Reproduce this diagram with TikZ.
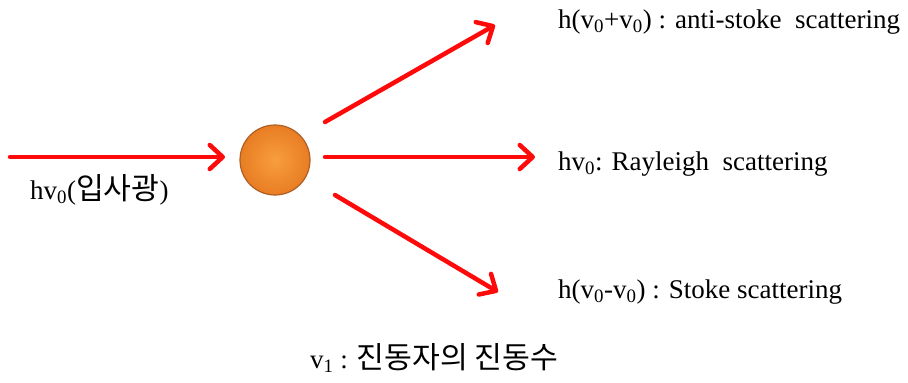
\documentclass[tikz,border=0pt]{standalone}
\usepackage{fontspec}
\setmainfont{Liberation Serif}
\newfontfamily\krfont[Scale=1.12]{Noto Sans CJK KR}
\usetikzlibrary{arrows.meta,positioning}
\definecolor{rayRed}   {RGB}{255, 10,  10}
\definecolor{ballLight}{RGB}{248, 158, 62}
\definecolor{ballDark} {RGB}{232, 125, 35}
\definecolor{ballEdge} {RGB}{175, 95,  35}

\tikzset{
  ray/.style={-{Straight Barb[length=13pt,width=24pt,round]},rayRed,
              line width=4.5pt,line cap=round},
  lbl/.style={font=\fontsize{27}{30}\selectfont,inner sep=0pt,anchor=west}
}

\begin{document}
\begin{tikzpicture}[x=1pt,y=-1pt]
        \useasboundingbox (0,0) rectangle (908,383);
        % Particula
        \node[circle,minimum size=70pt,inner sep=0pt,draw=ballEdge,line width=1.2pt,
              inner color=ballLight,outer color=ballDark] (ball) at (275,160) {};

        % Pontos das setas
        \coordinate (src) at (10,157);
        \coordinate (inTip) at (225,157);
        \coordinate (upStart) at (325,122);
        \coordinate (upTip) at (495,25);
        \coordinate (midStart) at (325,157);
        \coordinate (midTip) at (535,157);
        \coordinate (lowStart) at (335,195);
        \coordinate (lowTip) at (498,292);

        % Setas
        \draw[ray] (src) -- (inTip);
        \draw[ray] (upStart) -- (upTip);
        \draw[ray] (midStart) -- (midTip);
        \draw[ray] (lowStart) -- (lowTip);

        % Labels
        \node[lbl] (antiLbl) at (558,22)
          {h(v\textsubscript{0}+v\textsubscript{0}) : anti-stoke\ \ scattering};
        \node[lbl] (rayLbl) at (558,164)
          {hv\textsubscript{0}: Rayleigh\ \ scattering};
        \node[lbl] (stokeLbl) at (558,292)
          {h(v\textsubscript{0}-v\textsubscript{0}) : Stoke scattering};
        \node[lbl] (inLbl) at (30,190)
          {hv\textsubscript{0}({\krfont 입사광})};
        \node[lbl] (noteLbl) at (310,358)
          {v\textsubscript{1} : {\krfont 진동자의 진동수}};
      \end{tikzpicture}
\end{document}
